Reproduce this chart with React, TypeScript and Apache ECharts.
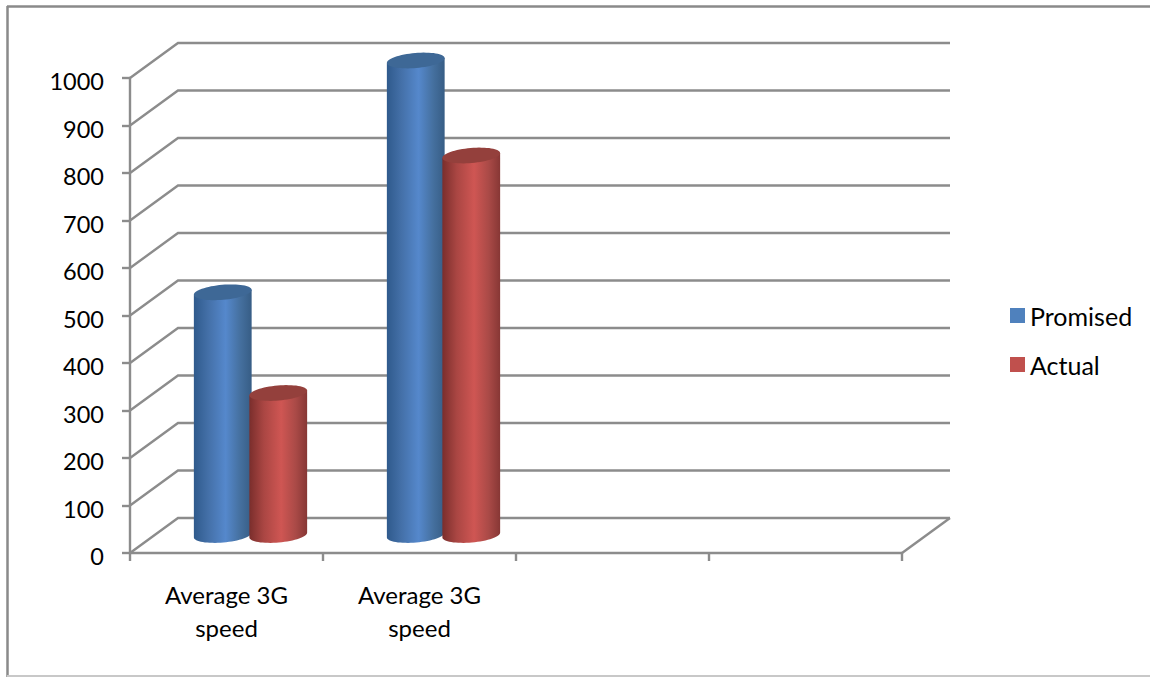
import React, { useEffect, useRef } from "react";
import * as echarts from "echarts";

const categories = ["Average 3G\nspeed", "Average 3G\nspeed", "", ""];
const promised = [512, 1000];
const actual = [300, 800];
const yTicks = [0, 100, 200, 300, 400, 500, 600, 700, 800, 900, 1000];

const DEPTH_X = 48;
const DEPTH_Y = 35;
const BAR_STEP = 55.5;
const RX = 29;
const RY = 7.5;
const TILT = -5;
const GRID_COLOR = "#8c8c8c";
const LINE_W = 2.4;
const FONT = "Lato";
const ELLIPSE_STEPS = 32;

const BLUE_STOPS = [
  { offset: 0, color: "#2f5a8c" },
  { offset: 0.25, color: "#4470a8" },
  { offset: 0.55, color: "#5588cc" },
  { offset: 0.8, color: "#45709f" },
  { offset: 1, color: "#375d85" },
];
const RED_STOPS = [
  { offset: 0, color: "#7a2e2c" },
  { offset: 0.25, color: "#aa4643" },
  { offset: 0.55, color: "#cf5653" },
  { offset: 0.8, color: "#aa4a47" },
  { offset: 1, color: "#873735" },
];

// Point on the tilted ellipse; t = 0 is the right end, t = PI the left end,
// t between 0 and PI runs below the centre on screen.
function ellipsePoint(cx: number, cy: number, t: number): string {
  const rad = (TILT * Math.PI) / 180;
  const ex = RX * Math.cos(t);
  const ey = RY * Math.sin(t);
  const x = cx + ex * Math.cos(rad) - ey * Math.sin(rad);
  const y = cy + ex * Math.sin(rad) + ey * Math.cos(rad);
  return `${x.toFixed(2)} ${y.toFixed(2)}`;
}

function cylinder(shift: number, stops: any[], capColor: string) {
  return (_params: any, api: any) => {
    const idx = api.value(0);
    const val = api.value(1);
    const cx = api.coord([idx, 0])[0] + DEPTH_X / 2 + shift;
    const by = api.coord([idx, 0])[1] - DEPTH_Y / 2 - 0.5;
    const ty = api.coord([idx, val])[1] - DEPTH_Y / 2;
    const bottom: string[] = [];
    const whole: string[] = [];
    for (let i = 0; i <= ELLIPSE_STEPS; i++) {
      bottom.push(ellipsePoint(cx, by, Math.PI - (i * Math.PI) / ELLIPSE_STEPS));
    }
    for (let i = 0; i < ELLIPSE_STEPS * 2; i++) {
      whole.push(ellipsePoint(cx, ty, (i * Math.PI) / ELLIPSE_STEPS));
    }
    const body =
      `M ${ellipsePoint(cx, ty, Math.PI)} L ${bottom.join(" L ")} L ${ellipsePoint(cx, ty, 0)} Z`;
    const cap = `M ${whole.join(" L ")} Z`;
    return {
      type: "group",
      children: [
        {
          type: "path",
          shape: { pathData: body },
          style: {
            fill: { type: "linear", x: 0, y: 0, x2: 1, y2: 0, colorStops: stops },
          },
        },
        { type: "path", shape: { pathData: cap }, style: { fill: capColor } },
      ],
    };
  };
}

function wallLine(params: any, api: any) {
  const rect = params.coordSys;
  const y = api.coord([0, api.value(0)])[1];
  const left = rect.x;
  const right = rect.x + rect.width;
  const lineStyle = { stroke: GRID_COLOR, lineWidth: LINE_W, fill: "none" };
  const children: any[] = [
    {
      type: "polyline",
      shape: {
        points: [
          [left, y],
          [left + DEPTH_X, y - DEPTH_Y],
          [right + DEPTH_X, y - DEPTH_Y],
        ],
      },
      style: lineStyle,
    },
  ];
  if (api.value(0) === 0) {
    children.push({
      type: "line",
      shape: { x1: right, y1: y, x2: right + DEPTH_X, y2: y - DEPTH_Y },
      style: lineStyle,
    });
  }
  return { type: "group", children };
}

export default function App() {
  const ref = useRef<HTMLDivElement>(null);
  useEffect(() => {
    const chart = echarts.init(ref.current!, null, { renderer: "svg" });
    chart.setOption({
      animation: false,
      backgroundColor: "#ffffff",
      textStyle: { fontFamily: FONT },
      grid: { left: 130, top: 78, width: 772, height: 475 },
      legend: {
        orient: "vertical",
        left: 1010,
        top: 303,
        padding: 0,
        itemWidth: 15,
        itemHeight: 15,
        itemGap: 24,
        data: ["Promised", "Actual"],
        icon: "rect",
        textStyle: { fontFamily: FONT, fontSize: 25, color: "#000", padding: [0, 0, 0, 0] },
      },
      xAxis: {
        type: "category",
        data: categories,
        boundaryGap: true,
        axisLine: { lineStyle: { color: GRID_COLOR, width: LINE_W } },
        axisTick: { show: true, length: 8, alignWithLabel: false, lineStyle: { color: GRID_COLOR, width: LINE_W } },
        axisLabel: {
          interval: 0,
          margin: 25,
          fontFamily: FONT,
          fontSize: 24,
          lineHeight: 33,
          color: "#000",
        },
      },
      yAxis: {
        type: "value",
        min: 0,
        max: 1000,
        interval: 100,
        splitLine: { show: false },
        axisLine: { show: true, lineStyle: { color: GRID_COLOR, width: LINE_W } },
        axisTick: { show: true, length: 8, lineStyle: { color: GRID_COLOR, width: LINE_W } },
        axisLabel: {
          margin: 26,
          color: "#000",
          formatter: (v: number) => `{s|}{v|${v}}`,
          rich: {
            s: { lineHeight: 30, width: 0, fontSize: 1 },
            v: {
              fontFamily: FONT,
              fontSize: 23.5,
              color: "#000",
              lineHeight: 24,
              verticalAlign: "bottom",
            },
          },
        },
      },
      graphic: [
        { type: "line", shape: { x1: 7, y1: 6.5, x2: 1150, y2: 6.5 }, style: { stroke: "#8a8a8a", lineWidth: 2.5 } },
        { type: "line", shape: { x1: 7.5, y1: 6, x2: 7.5, y2: 677 }, style: { stroke: "#8a8a8a", lineWidth: 2.5 } },
        { type: "line", shape: { x1: 7, y1: 676, x2: 1150, y2: 676 }, style: { stroke: "#c8c8c8", lineWidth: 2 } },
      ],
      series: [
        {
          type: "custom",
          name: "Walls",
          renderItem: wallLine,
          encode: { y: 0 },
          data: yTicks.map((v) => [v]),
          silent: true,
          z: 1,
        },
        {
          type: "custom",
          name: "Promised",
          itemStyle: { color: "#4f81bd" },
          renderItem: cylinder(-BAR_STEP / 2, BLUE_STOPS, "#3e6896"),
          encode: { x: 0, y: 1 },
          data: promised.map((v, i) => [i, v]),
          z: 3,
        },
        {
          type: "custom",
          name: "Actual",
          itemStyle: { color: "#c0504d" },
          renderItem: cylinder(BAR_STEP / 2, RED_STOPS, "#94403c"),
          encode: { x: 0, y: 1 },
          data: actual.map((v, i) => [i, v]),
          z: 4,
        },
      ],
    });
    return () => chart.dispose();
  }, []);
  return (
    <div
      ref={ref}
      style={{ position: "absolute", left: 0, top: 0, width: 1150, height: 677 }}
    />
  );
}
